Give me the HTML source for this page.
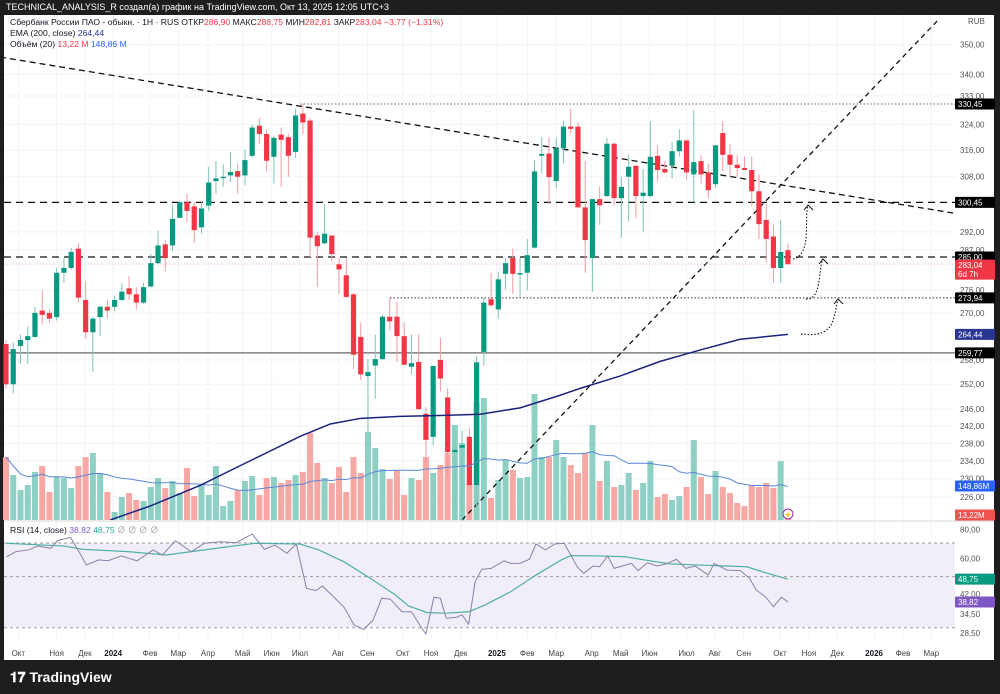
<!DOCTYPE html>
<html><head><meta charset="utf-8"><style>
html,body{margin:0;padding:0;background:#1e1e1e;}
svg{display:block;font-family:"Liberation Sans","Noto Sans CJK SC",sans-serif;}
</style></head><body>
<svg id="chart" width="1000" height="694" viewBox="0 0 1000 694" xmlns="http://www.w3.org/2000/svg">
<rect x="0" y="0" width="1000" height="694" fill="#1e1e1e"/>
<text x="6" y="10" font-size="9" fill="#ffffff">TECHNICAL_ANALYSIS_R создал(а) график на TradingView.com, Окт 13, 2025 12:05 UTC+3</text>
<rect x="4" y="15" width="990" height="645" fill="#ffffff"/>
<g id="grid"></g>
<rect x="4" y="543" width="951" height="84" fill="#f1eefa"/>
<g id="vol"></g>
<g id="draw"></g>
<g id="candles"></g>
<g id="ind"></g>
<g id="axis"></g>
<line x1="4" y1="521" x2="994" y2="521" stroke="#d6d6d6" stroke-width="1"/>
<g font-size="8.6">
<text x="10" y="25" fill="#131722">Сбербанк России ПАО - обыкн. · 1Н · RUS  ОТКР<tspan fill="#f23645">286,90</tspan>  МАКС<tspan fill="#f23645">288,75</tspan>  МИН<tspan fill="#f23645">282,81</tspan>  ЗАКР<tspan fill="#f23645">283,04</tspan>  <tspan fill="#f23645">−3,77 (−1,31%)</tspan></text>
<text x="10" y="36" fill="#131722">EMA (200, close)  <tspan fill="#283593">264,44</tspan></text>
<text x="10" y="47" fill="#131722">Объём (20)  <tspan fill="#f23645">13,22 M</tspan>  <tspan fill="#2962ff">148,86 M</tspan></text>
<text x="10" y="533" fill="#131722">RSI (14, close)  <tspan fill="#7e57c2">38,82</tspan>  <tspan fill="#26a69a">48,75</tspan>  <tspan fill="#999">∅ ∅ ∅ ∅</tspan></text>
</g>
<text x="968" y="24" font-size="8" fill="#555">RUB</text>
<circle cx="788" cy="514" r="5" fill="#fff" stroke="#9c27b0" stroke-width="1"/>
<text x="788" y="517" font-size="7" fill="#9c27b0" text-anchor="middle">⚡</text>
<text x="10" y="682" font-size="14" font-weight="bold" fill="#ffffff">𝟏𝟕 TradingView</text>
</svg>
<script>
// ---- data ----
const opens=[262,252,261.5,263,263.8,270.6,270,268.9,280.7,282,287.3,273.4,265,268.9,271.6,271.6,273.4,276.5,274.9,272.7,277,283.3,288.5,288.2,296,300.5,299.3,293.3,299.5,306.7,307.6,308.4,309.7,308.4,314.3,323.6,321,314,320.8,320,315.5,327.4,325.2,291,288.8,291,283,280,274.9,263.8,254,256.6,258.2,269,269,264,256.3,257.5,244.9,239.5,258,248.8,236,237,239.5,228.6,260,273.6,270.9,280.4,284.7,280.2,280.7,287.6,314.3,315,306.7,316.6,323.3,323.3,299,284.7,301.4,302.3,318,301.7,308,311.3,302.3,302.3,314.3,310.3,311.3,315.7,319,308.7,312.7,309.3,305.8,321.3,314.6,311.6,310.6,310,303.7,295.4,290.7,282,286.9];
const highs=[263,262.5,264.4,266.5,271.6,276,271,282,284.7,287.6,288.8,278.5,269,272,273.5,274.5,278,279.8,276.8,278,285.8,292.4,289.7,299.8,300.8,303,300.5,300.5,311,312.7,311.8,315.5,311.9,316.3,324,326,322.5,320.5,323,321,329,330.5,326,292,300,291,284.7,284.7,275.3,267.5,258.2,264.4,269.5,274,273,267.5,264.4,264.5,246.5,256.5,263.6,251,239,241,241.5,259,274,280.7,281,284.7,287.3,284.7,290,313,320,320,319.8,325.2,329,324.6,312.8,301.4,305,319.8,318.3,308,314.6,311.3,310.3,325,317.5,312.8,318.5,322.5,319.3,328.5,314.5,311.9,317.5,325,317.8,314.5,314,314,308.7,300,294,295.4,288.75];
const lows=[251,249.8,257,257,263.5,267,267.5,268,278,281.5,272.7,263.4,255,264,268.5,270.5,273,273.4,271,272.4,276.5,283,281,286.7,296,294.7,289,291.5,298,303,305,306.5,303,305.5,313.7,318,309.6,306,305,308,313.7,321,285,276.8,288.6,283.7,275,274,255.8,253,240.6,248.5,258,265.5,257.5,256.8,254.4,245.7,233.5,237.5,250.3,230.4,221,221,227.6,223.7,256.5,271.6,268.5,276.2,275,274,276,287.3,309,300,304.6,312,321.3,299,280.7,275.6,294,302,299.6,290.4,295,296,292,302,306.5,309,307.5,314,307,300.5,306,301.7,304.7,309.6,308,308,310,299.5,290,283.6,278,278,282.8];
const closes=[252,260.7,263,264,270,269.5,268.5,280.7,282,286.4,274,265,268.5,271.6,270.6,273.4,275.6,274.9,272.7,276.8,283.3,288.2,284.7,295.7,300.5,298,292.5,298.7,306.3,307.5,308,309.4,308,313,323,321,312.8,319.8,319.2,314.3,326.8,324.6,290.4,288,291.5,285.8,281.6,274.2,259.3,254.4,255,258.2,269,267.8,264,256.8,257.2,246,238.8,256.5,253.4,236,236.5,237.6,228.6,257.4,272.7,272,278.9,283.3,280.4,280.6,285.5,309.6,314.9,307.9,316.6,323.3,322.6,299,289.7,301.4,299.6,318,301.7,305,311,302.3,303.3,314,310,309.3,315.7,319,309.3,312.4,308.7,304,317.5,314.6,311.6,310.6,310,303.7,294.2,290,282,286.4,283.04];
const volumes=[63,45,30,35,48,54,28,43,42,32,54,63,67,47,28,8,23,27,20,19,33,42,32,39,27,52,24,35,25,54,14,19,30,39,44,25,42,43,37,40,45,48,87,57,42,37,53,28,63,47,88,72,51,41,50,25,42,40,63,47,55,67,95,77,37,117,122,22,40,60,50,42,43,126,63,63,80,63,55,47,67,95,39,59,33,35,47,30,37,59,23,26,20,24,33,80,43,26,49,33,27,17,14,35,33,37,32,59,3];
const emaIdx=[14.4,19.9,26.8,33.7,40.6,44.8,48.9,54.4,59.9,65.5,71,76.5,79.3,84.8,90.3,95.9,101.4,108];
const emaVal=[221,224,228.5,234,239.6,242.5,243.8,244.3,244.5,244.8,246.3,249.3,251,254,257.6,260.5,263.2,264.44];
const rsiIdx=[0.05,1.37,3.1,4.4,6.2,7.1,8.9,10.2,11.1,12.8,14.1,15.9,18.1,20.3,21.6,23.4,25.6,27.4,29.6,31.8,34,35.7,37.1,38.8,40.1,41.5,42.8,43.7,45,46.7,48.1,49.4,50.7,51.9,53.1,54.7,56,57.3,58,59.1,60,60.8,62.2,63,63.9,64.8,65.7,67,68.8,69.7,71,72.3,73.2,74.5,75.8,77.1,78,78.9,79.8,81.1,82,83.1,84,85.1,86.4,87.3,88.6,89.9,91.2,92.6,93.9,95.2,97,97.8,99.6,101.4,102.7,103.6,104.9,106,107.1,108];
const rsiVal=[61,64.2,65.3,67.9,66.4,71.6,74.1,63.2,56.2,59.1,58.6,61.5,58.6,65.3,62.1,71.6,64.2,69.8,70.9,70.2,76.6,65.7,68.6,63.2,69.3,44.5,43.5,45.5,41.6,36.8,30.8,29.5,32.4,40.3,39.9,35.2,35.2,30.3,28.2,40.7,40.3,33,33.3,34.1,31.1,47.5,53.8,54.3,58.6,57.1,57.1,59.5,69.3,65.3,69.3,69.8,62.1,55.2,51.7,55.6,55.2,61.5,54.3,55.6,57.1,53.1,57.5,55.6,56.8,59.5,54.3,55.6,50.8,57.1,53.4,53.1,49.2,43.8,40.9,37,40.7,38.82];
const rsiMaIdx=[0.05,8,10.6,16.8,22.1,25.6,30,34.4,40.6,43.2,46.7,50.3,53.8,55.6,58.2,60.8,63.9,66.1,69.7,73.2,76.7,78,82,85.5,88.2,91.7,95.2,99.6,102.3,104.9,108];
const rsiMaVal=[69.8,67.9,65.7,64.2,62.1,64.2,67,69.8,69.3,65.3,58,49.2,41.6,37.3,34.9,34.7,35.2,37.6,43,50.8,59.1,61.7,61.5,61,59.1,56.8,56.2,55.6,55.2,52,48.75];
const priceTicks=[350,340,333,324,316,308,292,287,276,270,258,252,246,242,238,234,230,226];
const priceTickLabels=["350,00","340,00","333,00","324,00","316,00","308,00","292,00","287,00","276,00","270,00","258,00","252,00","246,00","242,00","238,00","234,00","230,00","226,00"];
const rsiTicks=[80,60,42,34.5,28.5];
const rsiTickLabels=["80,00","60,00","42,00","34,50","28,50"];
const rsiBands=[70,50,30];
const monthIdx=[1.7,7,10.9,14.8,19.9,23.8,27.9,32.7,36.7,40.6,45.9,49.9,54.8,58.7,62.8,67.8,72,76,80.9,84.9,88.9,94,97.9,101.9,106.9,110.9,114.8,119.9,123.9,127.8];
const monthLabels=["Окт","Ноя","Дек","2024","Фев","Мар","Апр","Май","Июн","Июл","Авг","Сен","Окт","Ноя","Дек","2025","Фев","Мар","Апр","Май","Июн","Июл","Авг","Сен","Окт","Ноя","Дек","2026","Фев","Мар"];
const levelPrices=[330.45,300.45,285,273.94,259.77];
const levelLabels=["330,45","300,45","285,00","273,94","259,77"];
const lastPrice=283.04, emaLast=264.44;

// ---- axes ----
const NS="http://www.w3.org/2000/svg";
const X=i=>6+i*7.24;
const YP=p=>104+Math.log(330.45/p)*1034;
const YR=v=>543+Math.log(70/v)*100;
const VY=v=>520-v;
function mk(tag,attrs,parent){const e=document.createElementNS(NS,tag);for(const k in attrs)e.setAttribute(k,attrs[k]);parent.appendChild(e);return e;}
const grid=document.getElementById('grid'),vol=document.getElementById('vol'),cg=document.getElementById('candles'),ind=document.getElementById('ind'),ax=document.getElementById('axis'),dr=document.getElementById('draw');

// grid
monthIdx.forEach((m,i)=>{const l=mk('line',{x1:X(m),x2:X(m),y1:15,y2:640,stroke:'#f0f3fa','stroke-width':1},grid);

});
priceTicks.forEach(p=>{const l=mk('line',{x1:4,x2:955,y1:YP(p),y2:YP(p),stroke:'#f0f3fa','stroke-width':1},grid);

});

// volume
volumes.forEach((v,i)=>{const up=closes[i]>=opens[i];
const r=mk('rect',{x:X(i)-3,y:VY(v),width:6,height:v,fill:up?'#8fd0c5':'#f7a8a5'},vol);

});
// volume MA 20
let vpts=[];for(let i=0;i<volumes.length;i++){const s=Math.max(0,i-19);let sum=0;for(let j=s;j<=i;j++)sum+=volumes[j];vpts.push(X(i)+','+VY(sum/(i-s+1)));}
const vma=mk('polyline',{points:vpts.join(' '),fill:'none',stroke:'#5b87d9','stroke-width':1},ind);



// drawings
function line(a,name){const l=mk('line',a,dr);return l;}
line({x1:0,y1:57,x2:953,y2:213,stroke:'#111','stroke-width':1.3,'stroke-dasharray':'6,4'},'downtrend-line');
line({x1:462,y1:520,x2:940,y2:18,stroke:'#111','stroke-width':1.3,'stroke-dasharray':'5,4'},'uptrend-line');
line({x1:4,y1:YP(300.45),x2:955,y2:YP(300.45),stroke:'#111','stroke-width':1.3,'stroke-dasharray':'7,5'},'resistance-300-line');
line({x1:4,y1:YP(285),x2:955,y2:YP(285),stroke:'#111','stroke-width':1.3,'stroke-dasharray':'7,5'},'level-285-line');
line({x1:300,y1:YP(330.45),x2:955,y2:YP(330.45),stroke:'#666','stroke-width':1,'stroke-dasharray':'1.5,2'},'high-330-line');
line({x1:390,y1:YP(273.94),x2:955,y2:YP(273.94),stroke:'#333','stroke-width':1,'stroke-dasharray':'1.5,2'},'support-273-line');
line({x1:4,y1:YP(259.77),x2:955,y2:YP(259.77),stroke:'#666','stroke-width':1.2},'support-259-line');
line({x1:4,y1:YP(lastPrice),x2:955,y2:YP(lastPrice),stroke:'#f5b5b8','stroke-width':1,'stroke-dasharray':'1,2'},'last-price-line');
[['M793,259 C812,255 804,220 808,205','arrow-1'],['M806,299 C822,300 818,270 823,259','arrow-2'],['M801,334 C835,338 833,320 838,299','arrow-3']].forEach(a=>{
const p=mk('path',{d:a[0],fill:'none',stroke:'#111','stroke-width':1.1,'stroke-dasharray':'1.5,1.8'},dr);

});
[[808,205],[823,259],[838,299]].forEach(t=>{const h=mk('path',{d:`M${t[0]-4},${t[1]+5} L${t[0]},${t[1]} L${t[0]+5},${t[1]+5}`,fill:'none',stroke:'#111','stroke-width':1},dr);

});

// candles
opens.forEach((o,i)=>{const c=closes[i],up=c>=o,x=X(i);
const w=mk('line',{x1:x,x2:x,y1:YP(highs[i]),y2:YP(lows[i]),stroke:up?'#7cc5b8':'#f19aa0','stroke-width':1},cg);


const t=YP(Math.max(o,c)),b=YP(Math.min(o,c));
const r=mk('rect',{x:x-2.6,y:t,width:5.2,height:Math.max(1,b-t),fill:up?'#089981':'#f23645'},cg);

});

// EMA 200
const cp=mk('clipPath',{id:'mainclip'},ind);mk('rect',{x:4,y:15,width:951,height:505},cp);
const ema=mk('polyline',{points:emaIdx.map((d,i)=>X(d)+','+YP(emaVal[i])).join(' '),fill:'none',stroke:'#1a237e','stroke-width':1.5,'clip-path':'url(#mainclip)'},ind);



// RSI
rsiBands.forEach(b=>{const l=mk('line',{x1:4,x2:955,y1:YR(b),y2:YR(b),stroke:'#9a9a9a','stroke-width':1,'stroke-dasharray':'3,3'},ind);

});
const rma=mk('polyline',{points:rsiMaIdx.map((d,i)=>X(d)+','+YR(rsiMaVal[i])).join(' '),fill:'none',stroke:'#4fb0a5','stroke-width':1.2},ind);


const rl=mk('polyline',{points:rsiIdx.map((d,i)=>X(d)+','+YR(rsiVal[i])).join(' '),fill:'none',stroke:'#8a80a8','stroke-width':1},ind);



// axis labels
priceTicks.forEach((p,i)=>{const t=mk('text',{x:960,y:YP(p)+3,'font-size':8,fill:'#555'},ax);t.textContent=priceTickLabels[i];

});
rsiTicks.forEach((v,i)=>{const t=mk('text',{x:960,y:YR(v)+3,'font-size':8,fill:'#555'},ax);t.textContent=rsiTickLabels[i];

});
monthIdx.forEach((m,i)=>{const bold=/^20/.test(monthLabels[i]);const t=mk('text',{x:X(m),y:656,'font-size':8,fill:bold?'#131722':'#444','font-weight':bold?'bold':'normal','text-anchor':'middle'},ax);t.textContent=monthLabels[i];

});
function badge(y,txt,bg,name,txt2){const h=txt2?20:11;const r=mk('rect',{x:955,y:y-5.5,width:40,height:h,fill:bg,rx:1},ax);


const t=mk('text',{x:958,y:y+3,'font-size':8,fill:'#fff'},ax);t.textContent=txt;


if(txt2){const t2=mk('text',{x:958,y:y+12,'font-size':8,fill:'#fff'},ax);t2.textContent=txt2;

}}
levelPrices.forEach((p,i)=>badge(YP(p),levelLabels[i],'#000','level-badge'));
badge(YP(lastPrice)+1,'283,04','#f23645','last-price-badge','6d 7h');
badge(YP(emaLast),'264,44','#283593','ema-badge');
badge(VY(34),'148,86M','#2962ff','volume-ma-badge');
badge(VY(5),'13,22M','#ef5350','volume-badge');
badge(YR(48.75),'48,75','#089981','rsi-ma-badge');
badge(YR(38.82),'38,82','#7e57c2','rsi-badge');
</script>
</body></html>
